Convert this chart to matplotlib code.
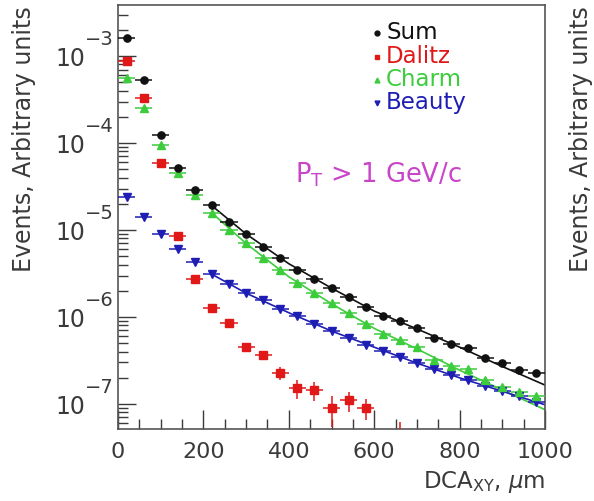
import matplotlib
matplotlib.use("Agg")
import matplotlib.pyplot as plt
import matplotlib.transforms as mtrans
from matplotlib.ticker import LogLocator, FixedLocator, NullFormatter
import numpy as np

plt.rcParams['font.family'] = ['DejaVu Sans']
plt.rcParams['mathtext.fontset'] = 'dejavusans'

# ---------------- data ----------------
bin_x = [20, 60, 100, 140, 180, 220, 260, 300, 340, 380, 420, 460, 500,
         540, 580, 620, 660, 700, 740, 780, 820, 860, 900, 940, 980]
bin_halfwidth = 20

sum_y = [1.61e-3, 5.3e-4, 1.24e-4, 5.1e-5, 2.9e-5, 1.92e-5, 1.24e-5, 9.0e-6,
         6.4e-6, 4.8e-6, 3.47e-6, 2.73e-6, 2.15e-6, 1.7e-6, 1.3e-6, 1.03e-6,
         9.0e-7, 7.5e-7, 5.75e-7, 4.9e-7, 4.4e-7, 3.4e-7, 2.96e-7, 2.47e-7, 2.27e-7]

dalitz_x = [20, 60, 100, 140, 180, 220, 260, 300, 340, 380, 420, 460, 500, 540, 580, 660]
dalitz_y = [8.8e-4, 3.3e-4, 5.9e-5, 8.5e-6, 2.75e-6, 1.28e-6, 8.5e-7, 4.5e-7,
            3.65e-7, 2.27e-7, 1.53e-7, 1.45e-7, 9.0e-8, 1.1e-7, 9.0e-8, 4.0e-8]
dalitz_err = [0, 0, 0, 0, 0, 0, 3e-8, 3e-8, 3.5e-8, 4e-8, 3.8e-8, 3.6e-8,
              3.5e-8, 2.8e-8, 2.4e-8, 2.2e-8]

charm_y = [5.6e-4, 2.5e-4, 9.6e-5, 4.5e-5, 2.5e-5, 1.57e-5, 1.0e-5, 7.0e-6,
           4.8e-6, 3.47e-6, 2.48e-6, 1.89e-6, 1.44e-6, 1.11e-6, 8.3e-7, 6.4e-7,
           5.4e-7, 4.5e-7, 3.2e-7, 2.73e-7, 2.5e-7, 1.89e-7, 1.57e-7, 1.37e-7, 1.24e-7]

beauty_y = [2.4e-5, 1.4e-5, 9.0e-6, 6.0e-6, 4.25e-6, 3.15e-6, 2.42e-6, 1.9e-6,
            1.55e-6, 1.24e-6, 1.02e-6, 8.3e-7, 6.9e-7, 5.7e-7, 4.8e-7, 4.1e-7,
            3.45e-7, 2.95e-7, 2.5e-7, 2.15e-7, 1.89e-7, 1.61e-7, 1.41e-7, 1.24e-7, 1.05e-7]

fit_x = [220, 300, 400, 500, 600, 700, 800, 900, 1000]
sum_fit = [1.9e-5, 9.0e-6, 4.1e-6, 2.15e-6, 1.17e-6, 7.3e-7, 4.5e-7, 2.7e-7, 1.65e-7]
charm_fit = [1.57e-5, 7.0e-6, 2.9e-6, 1.42e-6, 7.4e-7, 4.3e-7, 2.45e-7, 1.45e-7, 8.6e-8]
beauty_fit = [3.1e-6, 1.88e-6, 1.12e-6, 6.9e-7, 4.5e-7, 2.95e-7, 2.0e-7, 1.4e-7, 9.8e-8]

legend_labels = ["Sum", "Dalitz", "Charm", "Beauty"]
x_ticks = [0, 200, 400, 600, 800, 1000]
y_tick_exponents = [-3, -4, -5, -6, -7]

# ---------------- style ----------------
C_SUM = '#111111'
C_DAL = '#e01818'
C_CHA = '#3ccc3c'
C_BEA = '#1e1eb4'
C_TXT = '#3a3a3a'
C_PT = '#c844c8'

fig = plt.figure(figsize=(5.94, 5.01), dpi=100)
ax = fig.add_axes([118/594, 1-429/501, 427/594, 424/501])

ax.set_yscale('log')
ax.set_xlim(0, 1000)
ax.set_ylim(5.16e-8, 3.86e-3)

# fit lines
ax.plot(fit_x, sum_fit, color=C_SUM, lw=1.2, zorder=2)
ax.plot(fit_x, charm_fit, color=C_CHA, lw=1.2, zorder=2)
ax.plot(fit_x, beauty_fit, color=C_BEA, lw=1.2, zorder=2)

ekw = dict(linestyle='none', elinewidth=1.1, capsize=0, zorder=3)
ax.errorbar(bin_x, beauty_y, xerr=bin_halfwidth, color=C_BEA, marker='v', ms=5.5, **ekw)
ax.errorbar(bin_x, charm_y, xerr=bin_halfwidth, color=C_CHA, marker='^', ms=5.5, **ekw)
ax.errorbar(dalitz_x, dalitz_y, xerr=bin_halfwidth, yerr=dalitz_err, color=C_DAL,
            marker='s', ms=5.2, **ekw)
ax.errorbar(bin_x, sum_y, xerr=bin_halfwidth, color=C_SUM, marker='o', ms=5.2, **ekw)

# ticks
ax.xaxis.set_major_locator(FixedLocator(x_ticks))
ax.xaxis.set_minor_locator(FixedLocator(np.arange(0, 1001, 50)))
ax.yaxis.set_major_locator(LogLocator(base=10, numticks=20))
ax.yaxis.set_minor_locator(LogLocator(base=10, subs=np.arange(2, 10), numticks=20))
ax.yaxis.set_minor_formatter(NullFormatter())
ax.yaxis.set_major_formatter(NullFormatter())

ax.tick_params(axis='both', which='both', direction='in', colors=C_TXT, top=False, right=False)
ax.tick_params(axis='x', which='major', length=14, width=1.0, labelsize=16, pad=9)
ax.tick_params(axis='x', which='minor', length=7, width=1.0)
ax.tick_params(axis='y', which='major', length=13, width=1.0)
ax.tick_params(axis='y', which='minor', length=7, width=1.0)

# ROOT-style y tick labels: "10" centred on the tick, exponent raised
trans_y = mtrans.blended_transform_factory(ax.transAxes, ax.transData)
for e in y_tick_exponents:
    v = 10.0 ** e
    ax.text(-33/427, v, '10', transform=trans_y, ha='right', va='center_baseline',
            fontsize=17, color=C_TXT, clip_on=False)
    off = mtrans.offset_copy(trans_y, fig=fig, x=0, y=19, units='dots')
    ax.text(-33/427, v, '\u2212%d' % abs(e), transform=off, ha='left', va='center_baseline',
            fontsize=14, color=C_TXT, clip_on=False)

for s in ax.spines.values():
    s.set_color('#555555')
    s.set_linewidth(1.2)

# axis labels
ax.text(1.0, -0.095, r'DCA$_{\mathregular{XY}}$, $\mu$m', transform=ax.transAxes,
        ha='right', va='top', fontsize=16.5, color=C_TXT)
fig.text(24/594, 1-6/501, 'Events, Arbitrary units', rotation=90, ha='center', va='top',
         fontsize=17, color=C_TXT)
fig.text(581/594, 1-6/501, 'Events, Arbitrary units', rotation=90, ha='center', va='top',
         fontsize=17, color=C_TXT)

# legend (manual)
leg_colors = [C_SUM, C_DAL, C_CHA, C_BEA]
leg_markers = ['o', 's', '^', 'v']
leg_y = [33, 57, 80, 103]
for lab, c, m, yy in zip(legend_labels, leg_colors, leg_markers, leg_y):
    fy = 1 - (yy - 5) / 424
    ax.plot([(377-118)/427], [fy], marker=m, color=c, ms=3.5, transform=ax.transAxes,
            clip_on=False, zorder=5)
    ax.text((386-118)/427, fy, lab, transform=ax.transAxes, ha='left', va='center',
            fontsize=16.5, color=c)

ax.text((378-118)/427, 1-(175-5)/424, r'P$_\mathregular{T}$ > 1 GeV/c', transform=ax.transAxes,
        ha='center', va='center', fontsize=18.5, color=C_PT)

fig.savefig('out.png', dpi=100)
